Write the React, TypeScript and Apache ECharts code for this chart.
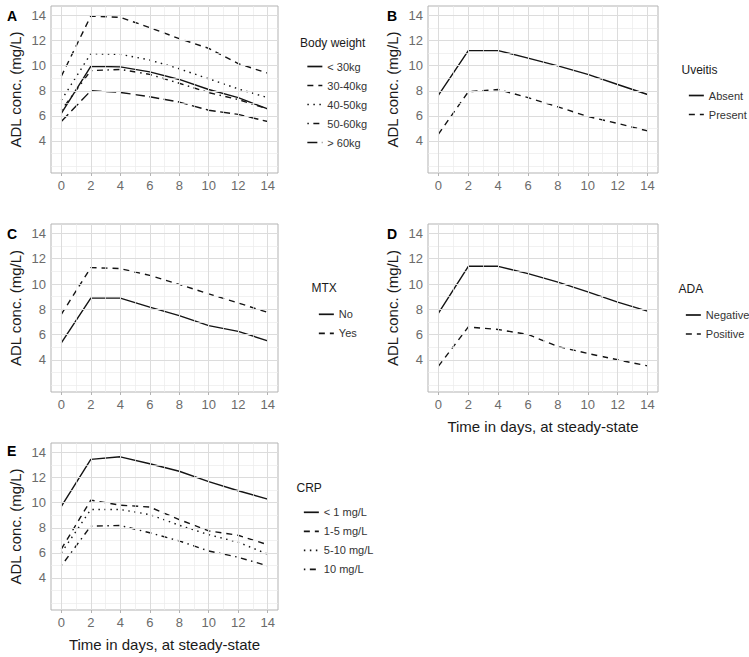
import React, { useEffect, useRef } from "react";
import * as echarts from "echarts";

// ---- data ----
const days = [0, 2, 4, 6, 8, 10, 12, 14];
const xMajorTicks = [0, 2, 4, 6, 8, 10, 12, 14];
const xMinorTicks = [1, 3, 5, 7, 9, 11, 13];
const yMajorTicks = [4, 6, 8, 10, 12, 14];
const yMinorTicks = [2, 3, 5, 7, 9, 11, 13];

const panelLetters = ["A", "B", "C", "D", "E"];
const legendTitles = ["Body weight", "Uveitis", "MTX", "ADA", "CRP"];
const yTitle = "ADL conc. (mg/L)";
const xTitle = "Time in days, at steady-state";

// A: body weight
const bwNames = ["< 30kg", "30-40kg", "40-50kg", "50-60kg", "> 60kg"];
const bwLt30 = [6.2, 9.95, 9.9, 9.5, 8.9, 8.1, 7.45, 6.55];
const bw30to40 = [9.15, 13.95, 13.85, 13.03, 12.15, 11.38, 10.16, 9.4];
const bw40to50 = [7.25, 10.95, 10.9, 10.45, 9.75, 8.95, 8.15, 7.45];
const bw50to60 = [6.45, 9.6, 9.7, 9.3, 8.6, 7.85, 7.3, 6.55];
const bwGt60 = [5.55, 8.0, 7.87, 7.52, 7.1, 6.45, 6.12, 5.55];

// B: uveitis
const uvNames = ["Absent", "Present"];
const uvAbsent = [7.65, 11.2, 11.2, 10.6, 9.98, 9.3, 8.5, 7.7];
const uvPresent = [4.55, 7.92, 8.1, 7.45, 6.72, 5.95, 5.4, 4.8];

// C: MTX
const mtxNames = ["No", "Yes"];
const mtxNo = [5.33, 8.88, 8.88, 8.17, 7.5, 6.7, 6.25, 5.5];
const mtxYes = [7.6, 11.3, 11.22, 10.68, 9.97, 9.22, 8.5, 7.75];

// D: ADA
const adaNames = ["Negative", "Positive"];
const adaNeg = [7.69, 11.4, 11.4, 10.82, 10.15, 9.38, 8.56, 7.85];
const adaPos = [3.5, 6.6, 6.4, 6.0, 5.05, 4.5, 4.0, 3.52];

// E: CRP
const crpNames = ["< 1 mg/L", "1-5 mg/L", "5-10 mg/L", "10 mg/L"];
const crpLt1 = [9.7, 13.45, 13.65, 13.1, 12.5, 11.68, 10.95, 10.28];
const crp1to5 = [6.3, 10.2, 9.8, 9.65, 8.65, 7.75, 7.4, 6.65];
const crp5to10 = [6.0, 9.45, 9.45, 9.05, 8.2, 7.45, 6.85, 5.9];
const crpGt10 = [4.97, 8.13, 8.18, 7.6, 6.95, 6.15, 5.65, 4.97];

// ---- styles ----
const LT: Record<string, any> = {
  solid: "solid",
  dashed: [6, 5],
  dotted: [1.5, 4.5],
  dotdash: [1.5, 4.5, 6, 4.5],
  longdash: [10, 4.5],
};
const FONT = "Liberation Sans";
const MAJOR_GRID = "#dcdcdc";
const MINOR_GRID = "#ebebeb";
const LINE_COLOR = "#141414";

const panels = [
  {
    grid: { left: 51, top: 6, width: 227, height: 167 },
    names: bwNames,
    values: [bwLt30, bw30to40, bw40to50, bw50to60, bwGt60],
    types: ["solid", "dashed", "dotted", "dotdash", "longdash"],
    legend: { left: 301.5, top: 54.5, title: [300, 42.7] },
    letter: [7, 15.7],
    xName: false,
  },
  {
    grid: { left: 428, top: 6, width: 230, height: 167 },
    names: uvNames,
    values: [uvAbsent, uvPresent],
    types: ["solid", "dashed"],
    legend: { left: 683, top: 83.5, title: [681.5, 70] },
    letter: [387, 15.7],
    xName: false,
  },
  {
    grid: { left: 51, top: 224, width: 227, height: 168 },
    names: mtxNames,
    values: [mtxNo, mtxYes],
    types: ["solid", "dashed"],
    legend: { left: 313, top: 302.3, title: [311.5, 288.3] },
    letter: [7, 233.5],
    xName: false,
  },
  {
    grid: { left: 428, top: 224, width: 230, height: 168 },
    names: adaNames,
    values: [adaNeg, adaPos],
    types: ["solid", "dashed"],
    legend: { left: 680, top: 303, title: [678.5, 289] },
    letter: [387, 233.5],
    xName: true,
  },
  {
    grid: { left: 51, top: 443, width: 227, height: 167 },
    names: crpNames,
    values: [crpLt1, crp1to5, crp5to10, crpGt10],
    types: ["solid", "dashed", "dotted", "dotdash"],
    legend: { left: 298, top: 500.3, title: [296.5, 488.3] },
    letter: [7, 450.7],
    xName: true,
  },
];

const X_MIN = -0.7;
const X_MAX = 14.7;
const Y_MIN = 1.45;
const Y_MAX = 14.75;

function gridLineData() {
  const d: any[] = [];
  xMinorTicks.forEach((v) => d.push({ xAxis: v, lineStyle: { color: MINOR_GRID, width: 0.7, type: "solid" } }));
  yMinorTicks.forEach((v) => d.push({ yAxis: v, lineStyle: { color: MINOR_GRID, width: 0.7, type: "solid" } }));
  xMajorTicks.forEach((v) => d.push({ xAxis: v, lineStyle: { color: MAJOR_GRID, width: 1, type: "solid" } }));
  yMajorTicks.forEach((v) => d.push({ yAxis: v, lineStyle: { color: MAJOR_GRID, width: 1, type: "solid" } }));
  return d;
}

function buildOption() {
  const grid: any[] = [];
  const xAxis: any[] = [];
  const yAxis: any[] = [];
  const series: any[] = [];
  const legend: any[] = [];
  const graphic: any[] = [];

  panels.forEach((p, i) => {
    grid.push({
      left: p.grid.left,
      top: p.grid.top,
      width: p.grid.width,
      height: p.grid.height,
      show: true,
      borderColor: "#b3b3b3",
      borderWidth: 1,
      backgroundColor: "transparent",
      containLabel: false,
    });
    xAxis.push({
      type: "value",
      gridIndex: i,
      min: X_MIN,
      max: X_MAX,
      axisLine: { show: false },
      axisTick: { show: true, length: 3, lineStyle: { color: "#b3b3b3" }, customValues: xMajorTicks },
      axisLabel: {
        show: true,
        customValues: xMajorTicks,
        margin: 6,
        color: "#6b6b6b",
        fontSize: 13,
        fontFamily: FONT,
      },
      splitLine: { show: false },
      name: p.xName ? xTitle : "",
      nameLocation: "middle",
      nameGap: 27,
      nameTextStyle: { color: "#1a1a1a", fontSize: 15, fontFamily: FONT },
    });
    yAxis.push({
      type: "value",
      gridIndex: i,
      min: Y_MIN,
      max: Y_MAX,
      axisLine: { show: false },
      axisTick: { show: true, length: 3, lineStyle: { color: "#b3b3b3" }, customValues: yMajorTicks },
      axisLabel: {
        show: true,
        customValues: yMajorTicks,
        margin: 5,
        color: "#6b6b6b",
        fontSize: 13,
        fontFamily: FONT,
      },
      splitLine: { show: false },
      name: yTitle,
      nameLocation: "middle",
      nameGap: 28,
      nameTextStyle: { color: "#1a1a1a", fontSize: 15, fontFamily: FONT },
    });

    // gridlines through the axes' own scale
    series.push({
      type: "line",
      name: "grid-" + i,
      xAxisIndex: i,
      yAxisIndex: i,
      data: [],
      symbol: "none",
      silent: true,
      z: 1,
      markLine: {
        silent: true,
        symbol: ["none", "none"],
        label: { show: false },
        animation: false,
        data: gridLineData(),
      },
    });

    p.names.forEach((name, k) => {
      series.push({
        type: "line",
        name,
        xAxisIndex: i,
        yAxisIndex: i,
        data: days.map((d, j) => [d, p.values[k][j]]),
        symbol: "none",
        showSymbol: false,
        lineStyle: { color: LINE_COLOR, width: 1.4, type: LT[p.types[k]] },
        itemStyle: { color: LINE_COLOR },
        z: 3,
        silent: true,
      });
    });

    legend.push({
      orient: "vertical",
      left: p.legend.left,
      top: p.legend.top,
      itemWidth: 15,
      itemHeight: 14,
      itemGap: 5,
      selectedMode: false,
      data: p.names.map((name, k) => ({
        name,
        itemStyle: { opacity: 0 },
        lineStyle: { type: LT[p.types[k]], width: 1.7, color: LINE_COLOR },
      })),
      textStyle: { color: "#333333", fontSize: 11, fontFamily: FONT, lineHeight: 14 },
    });

    graphic.push({
      type: "text",
      x: p.legend.title[0],
      y: p.legend.title[1],
      style: {
        text: legendTitles[i],
        fill: "#1a1a1a",
        fontSize: 12,
        fontFamily: FONT,
        verticalAlign: "middle",
      },
    });
    graphic.push({
      type: "text",
      x: p.letter[0],
      y: p.letter[1],
      style: {
        text: panelLetters[i],
        fill: "#000000",
        fontSize: 14,
        fontWeight: "bold",
        fontFamily: FONT,
        verticalAlign: "middle",
      },
    });
  });

  return {
    animation: false,
    backgroundColor: "#ffffff",
    grid,
    xAxis,
    yAxis,
    series,
    legend,
    graphic,
  };
}

export default function App() {
  const ref = useRef<HTMLDivElement>(null);
  useEffect(() => {
    if (!ref.current) return;
    const chart = echarts.init(ref.current, undefined, { renderer: "svg" });
    chart.setOption(buildOption());
    return () => chart.dispose();
  }, []);
  return (
    <div
      ref={ref}
      style={{ position: "absolute", left: 0, top: 0, width: 749, height: 657 }}
    />
  );
}
